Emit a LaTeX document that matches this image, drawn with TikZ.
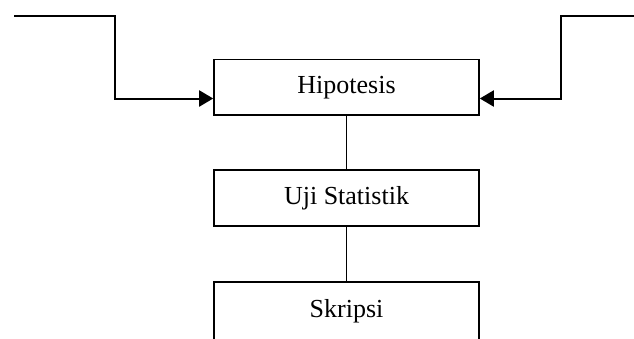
\documentclass[tikz,border=0pt]{standalone}
\usepackage{fontspec}
\setmainfont{Liberation Serif}
\usetikzlibrary{arrows.meta}
\begin{document}
\begin{tikzpicture}[x=1pt,y=-1pt,
  box/.style={draw,line width=1.6pt,minimum width=265pt,minimum height=55.5pt,inner sep=0pt,font=\fontsize{26}{30}\selectfont},
  feed/.style={line width=2pt,-{Triangle[length=14pt,width=16pt]}},
  link/.style={line width=1.7pt}]
\useasboundingbox (0,0) rectangle (634,338);
\clip (0,0) rectangle (634,338);
\node[box] (hip) at (346.5,87.25) {Hipotesis};
\node[box] (uji) at (346.5,198) {Uji Statistik};
\node[box,minimum height=58pt] (skr) at (346.5,311) {Skripsi};
\coordinate (ls) at (14,15.5);
\coordinate (lc) at (115,15.5);
\coordinate (rs) at (640,15.5);
\coordinate (rc) at (561,15.5);
\coordinate (la) at ([yshift=17.3pt]hip.south west);
\coordinate (ra) at ([yshift=17.3pt]hip.south east);
\draw[feed] (ls) -- (lc) |- (la);
\draw[feed] (rs) -- (rc) |- (ra);
\draw[link] (hip) -- (uji);
\draw[link] (uji) -- (skr);
\end{tikzpicture}
\end{document}
